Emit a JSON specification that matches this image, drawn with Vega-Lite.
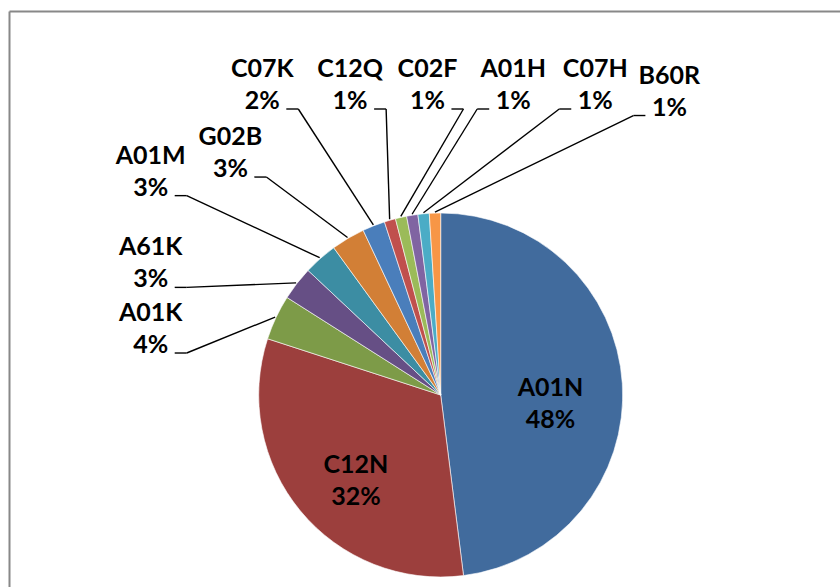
{
  "$schema": "https://vega.github.io/schema/vega-lite/v6.json",
  "width": 831,
  "height": 576,
  "padding": {"left": 9, "top": 11, "right": 0, "bottom": 0},
  "autosize": {"type": "none"},
  "background": "white",
  "config": {"view": {"stroke": null}, "font": "Lato"},
  "data": {
    "values": [
      {"code": "A01N", "share": 48},
      {"code": "C12N", "share": 32},
      {"code": "A01K", "share": 4},
      {"code": "A61K", "share": 3},
      {"code": "A01M", "share": 3},
      {"code": "G02B", "share": 3},
      {"code": "C07K", "share": 2},
      {"code": "C12Q", "share": 1},
      {"code": "C02F", "share": 1},
      {"code": "A01H", "share": 1},
      {"code": "C07H", "share": 1},
      {"code": "B60R", "share": 1}
    ]
  },
  "transform": [
    {"window": [{"op": "row_number", "as": "rank"}]},
    {"window": [{"op": "sum", "field": "share", "as": "cum"}], "frame": [null, 0]},
    {"joinaggregate": [{"op": "sum", "field": "share", "as": "total"}]},
    {"calculate": "datum.share >= 10", "as": "inside"},
    {"window": [{"op": "row_number", "as": "k"}], "groupby": ["inside"]},
    {"calculate": "(datum.cum - datum.share / 2) / datum.total * 2 * PI", "as": "mid"},
    {"calculate": "datum.inside ? datum.mid : (280 + (datum.k - 1) * 13) * PI / 180", "as": "la"},
    {"calculate": "datum.inside ? 110 : (datum.k % 2 == 0 ? 380 - 60 * max(0, -sin(2 * datum.la)) : 380)", "as": "lr"},
    {"calculate": "datum.inside ? datum.lr * sin(datum.la) : max(datum.lr * sin(datum.la), -290)", "as": "lx"},
    {"calculate": "datum.inside ? datum.lr * cos(datum.la) : min(datum.lr * cos(datum.la), 310)", "as": "ly"},
    {"calculate": "datum.inside ? datum.ly - 16 : datum.ly", "as": "lyt"},
    {"calculate": "183 * sin(datum.mid)", "as": "ex"},
    {"calculate": "183 * cos(datum.mid)", "as": "ey"},
    {"calculate": "datum.lx < 0 ? 1 : -1", "as": "s"},
    {"calculate": "datum.lx + datum.s * 24", "as": "tx1"},
    {"calculate": "datum.lx + datum.s * 36", "as": "tx2"},
    {"calculate": "datum.ly - 24", "as": "ty"},
    {"calculate": "datum.code + '\\n' + datum.share + '%'", "as": "label"}
  ],
  "layer": [
    {
      "mark": {"type": "arc", "outerRadius": 182, "stroke": "#ffffff", "strokeWidth": 0.6},
      "encoding": {
        "x": {
          "datum": 0, "type": "quantitative",
          "scale": {"domain": [-431.7, 399.3], "nice": false, "zero": false},
          "axis": {"orient": "top", "labels": false, "ticks": false, "grid": false, "title": null, "domainColor": "#888888", "domainWidth": 2}
        },
        "y": {
          "datum": 0, "type": "quantitative",
          "scale": {"domain": [-192, 384], "nice": false, "zero": false},
          "axis": {"orient": "left", "labels": false, "ticks": false, "grid": false, "title": null, "domainColor": "#888888", "domainWidth": 2}
        },
        "theta": {"field": "share", "type": "quantitative", "stack": true},
        "order": {"field": "rank", "type": "quantitative"},
        "color": {
          "field": "code", "type": "nominal", "legend": null,
          "scale": {
            "domain": ["A01N", "C12N", "A01K", "A61K", "A01M", "G02B", "C07K", "C12Q", "C02F", "A01H", "C07H", "B60R"],
            "range": ["#416B9D", "#9C3F3D", "#7D9B48", "#664F85", "#3C8DA3", "#D27F36", "#4A7EBB", "#C0504D", "#9BBB59", "#8064A2", "#4BACC6", "#F79646"]
          }
        }
      }
    },
    {
      "transform": [{"filter": "!datum.inside"}],
      "mark": {"type": "rule", "color": "#000000", "strokeWidth": 1.4},
      "encoding": {
        "x": {"field": "tx2", "type": "quantitative"},
        "y": {"field": "ty", "type": "quantitative"},
        "x2": {"field": "ex"},
        "y2": {"field": "ey"}
      }
    },
    {
      "transform": [{"filter": "!datum.inside"}],
      "mark": {"type": "rule", "color": "#000000", "strokeWidth": 1.4},
      "encoding": {
        "x": {"field": "tx1", "type": "quantitative"},
        "y": {"field": "ty", "type": "quantitative"},
        "x2": {"field": "tx2"}
      }
    },
    {
      "mark": {"type": "text", "font": "Lato", "fontWeight": "bold", "fontSize": 25, "lineBreak": "\n", "lineHeight": 32, "align": "center", "baseline": "middle", "dy": -16, "color": "#000000"},
      "encoding": {
        "x": {"field": "lx", "type": "quantitative"},
        "y": {"field": "lyt", "type": "quantitative"},
        "text": {"field": "label"}
      }
    }
  ]
}
